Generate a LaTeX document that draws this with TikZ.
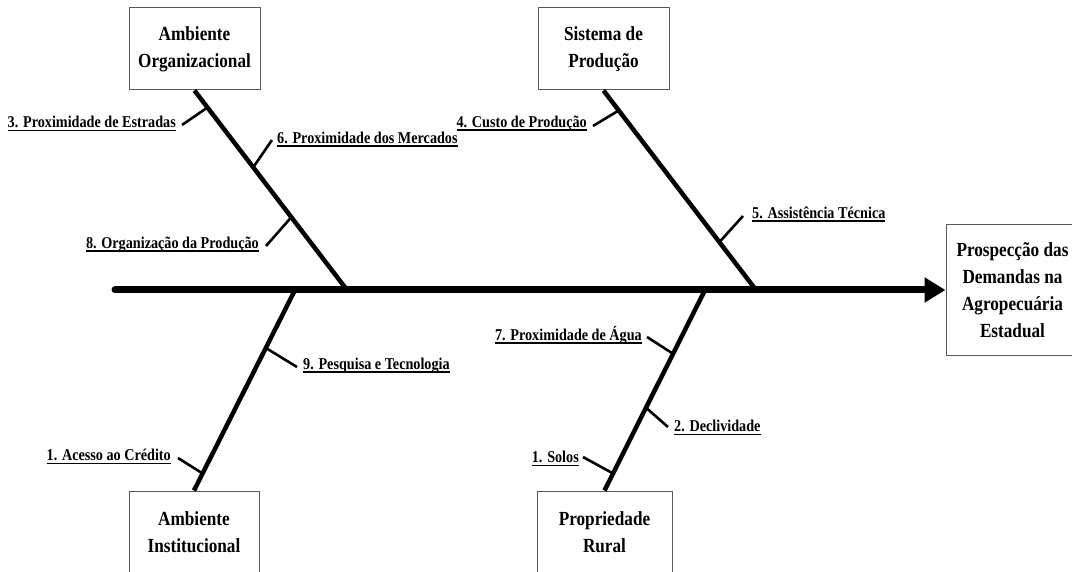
\documentclass[tikz,border=0pt]{standalone}
\usepackage{fontspec}
\setmainfont{Liberation Serif}[FakeStretch=0.86]
\usetikzlibrary{arrows.meta,calc}
\newcommand\myul[1]{\setbox0\hbox{#1}\rlap{\vrule width\wd0 height -2pt depth 3.4pt}\box0}
\definecolor{boxgray}{gray}{0.35}
\begin{document}
\begin{tikzpicture}[x=1pt,y=-1pt,
  box/.style={draw=boxgray, line width=1pt, inner sep=0pt, minimum width=131pt,
    minimum height=82pt, align=center, font=\bfseries\fontsize{20}{27}\selectfont},
  lbl/.style={inner sep=0pt, font=\bfseries\fontsize{16.5}{18}\selectfont},
  bone/.style={line width=4.5pt},
  tick/.style={line width=2.6pt},
  spine/.style={line width=7pt, line cap=round, -{Triangle[length=21pt,width=24pt]}}]
\useasboundingbox (0,0) rectangle (1072,572);

% boxes
\node[box] (ao) at (194.5,49) {Ambiente\\Organizacional};
\node[box] (sp) at (603.5,49) {Sistema de\\Produção};
\node[box, minimum width=130pt] (ai) at (194,532) {Ambiente\\Institucional};
\node[box, minimum width=135pt] (pr) at (604.5,532) {Propriedade\\Rural};
\node[box, minimum width=133pt, minimum height=131pt] (goal) at (1012.5,290.5)
  {Prospecção das\\Demandas na\\Agropecuária\\Estadual};

% spine
\coordinate (tail) at (115,290);
\draw[spine] (tail) -- (tail -| goal.west);

% junctions on spine
\coordinate (jao) at (347,290);
\coordinate (jsp) at (756,290);
\coordinate (jai) at (295,290);
\coordinate (jpr) at (705,290);

% bones
\draw[bone] (ao.south) -- (jao);
\draw[bone] (sp.south) -- (jsp);
\draw[bone] (ai.north) -- (jai);
\draw[bone] (pr.north) -- (jpr);

% tick ends
\coordinate (e3) at (182,125);
\coordinate (e6) at (272,140);
\coordinate (e8) at (266,246);
\coordinate (e4) at (593,126);
\coordinate (e5) at (743,216);
\coordinate (e9) at (297,367);
\coordinate (e1) at (178,458);
\coordinate (e7) at (647,337);
\coordinate (e2) at (668,427);
\coordinate (eS) at (583,457);

% ticks
\draw[tick] ($(ao.south)!0.085!(jao)$) -- (e3);
\draw[tick] ($(ao.south)!0.385!(jao)$) -- (e6);
\draw[tick] ($(ao.south)!0.635!(jao)$) -- (e8);
\draw[tick] ($(sp.south)!0.10!(jsp)$) -- (e4);
\draw[tick] ($(sp.south)!0.76!(jsp)$) -- (e5);
\draw[tick] ($(ai.north)!0.711!(jai)$) -- (e9);
\draw[tick] ($(ai.north)!0.085!(jai)$) -- (e1);
\draw[tick] ($(pr.north)!0.682!(jpr)$) -- (e7);
\draw[tick] ($(pr.north)!0.413!(jpr)$) -- (e2);
\draw[tick] ($(pr.north)!0.085!(jpr)$) -- (eS);

% labels
\node[lbl, anchor=base east] (l3) at (176,128) {\myul{3. Proximidade de Estradas}};
\node[lbl, anchor=base west] (l6) at (277,143.5) {\myul{6. Proximidade dos Mercados}};
\node[lbl, anchor=base east] (l8) at (259,248.5) {\myul{8. Organização da Produção}};
\node[lbl, anchor=base east] (l4) at (587,127.5) {\myul{4. Custo de Produção}};
\node[lbl, anchor=base west] (l5) at (752,218.5) {\myul{5. Assistência Técnica}};
\node[lbl, anchor=base west] (l9) at (303,369.5) {\myul{9. Pesquisa e Tecnologia}};
\node[lbl, anchor=base east] (l1) at (171,460.5) {\myul{1. Acesso ao Crédito}};
\node[lbl, anchor=base east] (l7) at (642,340.5) {\myul{7. Proximidade de Água}};
\node[lbl, anchor=base west] (l2) at (674,431.5) {\myul{2. Declividade}};
\node[lbl, anchor=base east] (lS) at (579,462.5) {\myul{1. Solos}};
\end{tikzpicture}
\end{document}
